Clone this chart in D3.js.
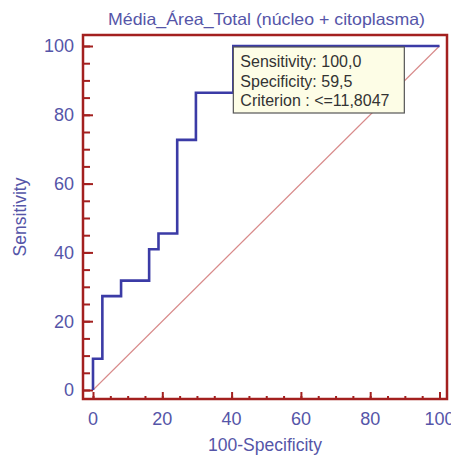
<!DOCTYPE html>
<html>
<head>
<meta charset="utf-8">
<script src="https://cdnjs.cloudflare.com/ajax/libs/d3/7.8.5/d3.min.js"></script>
<style>
  html, body { margin: 0; padding: 0; background: #ffffff; }
  svg { display: block; font-family: Arial, "Liberation Sans", sans-serif; }
</style>
</head>
<body>
<svg id="chart" width="451" height="459"></svg>
<script>
// ROC curve vertices: 100-Specificity (x) and Sensitivity (y), in percent
const fpr = [0, 0, 2.7, 2.7, 8.1, 8.1, 16.2, 16.2, 18.9, 18.9, 24.3, 24.3, 29.7, 29.7, 40.5, 40.5, 100];
const tpr = [0, 9.1, 9.1, 27.3, 27.3, 31.8, 31.8, 40.9, 40.9, 45.5, 45.5, 72.7, 72.7, 86.4, 86.4, 100, 100];
const majorTicks = [0, 20, 40, 60, 80, 100];
const minorTicks = d3.range(0, 101, 5);
const chartTitle = "Média_Área_Total (núcleo + citoplasma)";
const xTitle = "100-Specificity";
const yTitle = "Sensitivity";
const infoLines = ["Sensitivity: 100,0", "Specificity: 59,5", "Criterion : <=11,8047"];
const optimal = { x: 40.5, y: 100 };

const svg = d3.select("#chart");
const frame = { left: 83, top: 35, right: 447, bottom: 399 };
const x = d3.scaleLinear().domain([0, 100]).range([93, 439.5]);
const y = d3.scaleLinear().domain([0, 100]).range([390, 46]);

const red = "#a3201f";
const blue = "#3b3ba6";
const labelBlue = "#5555a8";

// plot frame
svg.append("rect")
  .attr("x", frame.left).attr("y", frame.top)
  .attr("width", frame.right - frame.left).attr("height", frame.bottom - frame.top)
  .attr("fill", "#ffffff").attr("stroke", red).attr("stroke-width", 2.5);

// reference diagonal
svg.append("line")
  .attr("x1", x(0)).attr("y1", y(0)).attr("x2", x(100)).attr("y2", y(100))
  .attr("stroke", "#d88a8a").attr("stroke-width", 1.1);

// axes with inward ticks on the frame
const yMinor = d3.axisRight(y).tickValues(minorTicks).tickSize(7).tickFormat("");
const yMajor = d3.axisRight(y).tickValues(majorTicks).tickSize(10).tickFormat("");
const xMinor = d3.axisTop(x).tickValues(minorTicks).tickSize(3).tickFormat("");
const xMajor = d3.axisTop(x).tickValues(majorTicks).tickSize(7).tickFormat("");
[[yMinor, `translate(${frame.left},0)`], [yMajor, `translate(${frame.left},0)`],
 [xMinor, `translate(0,${frame.bottom})`], [xMajor, `translate(0,${frame.bottom})`]]
  .forEach(([ax, tr]) => {
    const g = svg.append("g").attr("transform", tr).call(ax);
    g.select(".domain").remove();
    g.selectAll(".tick line").attr("stroke", red).attr("stroke-width", 2);
  });

// tick labels
svg.append("g").selectAll("text").data(majorTicks).join("text")
  .attr("x", 74).attr("y", d => y(d)).attr("dy", "0.36em")
  .attr("text-anchor", "end").attr("fill", labelBlue).attr("font-size", 18)
  .text(d => d);
svg.append("g").selectAll("text").data(majorTicks).join("text")
  .attr("x", d => x(d)).attr("y", 425)
  .attr("text-anchor", "middle").attr("fill", labelBlue).attr("font-size", 18)
  .text(d => d);

// ROC step curve
svg.append("path")
  .datum(fpr.map((v, i) => [v, tpr[i]]))
  .attr("d", d3.line().x(d => x(d[0])).y(d => y(d[1])))
  .attr("fill", "none").attr("stroke", blue).attr("stroke-width", 2.6)
  .attr("stroke-linejoin", "miter");

// info box at the optimal criterion
const box = svg.append("g").attr("transform", `translate(${x(optimal.x)},${y(optimal.y) + 1})`);
box.append("rect")
  .attr("width", 171).attr("height", 66)
  .attr("fill", "#fdfde6").attr("stroke", "#555555").attr("stroke-width", 1.2);
box.selectAll("text").data(infoLines).join("text")
  .attr("x", 7).attr("y", (d, i) => 20 + i * 19.5)
  .attr("fill", "#333333").attr("font-size", 16)
  .text(d => d);

// titles
svg.append("text")
  .attr("x", 108).attr("y", 25)
  .attr("fill", labelBlue).attr("font-size", 16.5)
  .attr("textLength", 317).attr("lengthAdjust", "spacingAndGlyphs")
  .text(chartTitle);
svg.append("text")
  .attr("x", 265).attr("y", 451).attr("text-anchor", "middle")
  .attr("fill", labelBlue).attr("font-size", 17.5)
  .text(xTitle);
svg.append("text")
  .attr("transform", "translate(26,217) rotate(-90)").attr("text-anchor", "middle")
  .attr("fill", labelBlue).attr("font-size", 17.5)
  .text(yTitle);
</script>
</body>
</html>
